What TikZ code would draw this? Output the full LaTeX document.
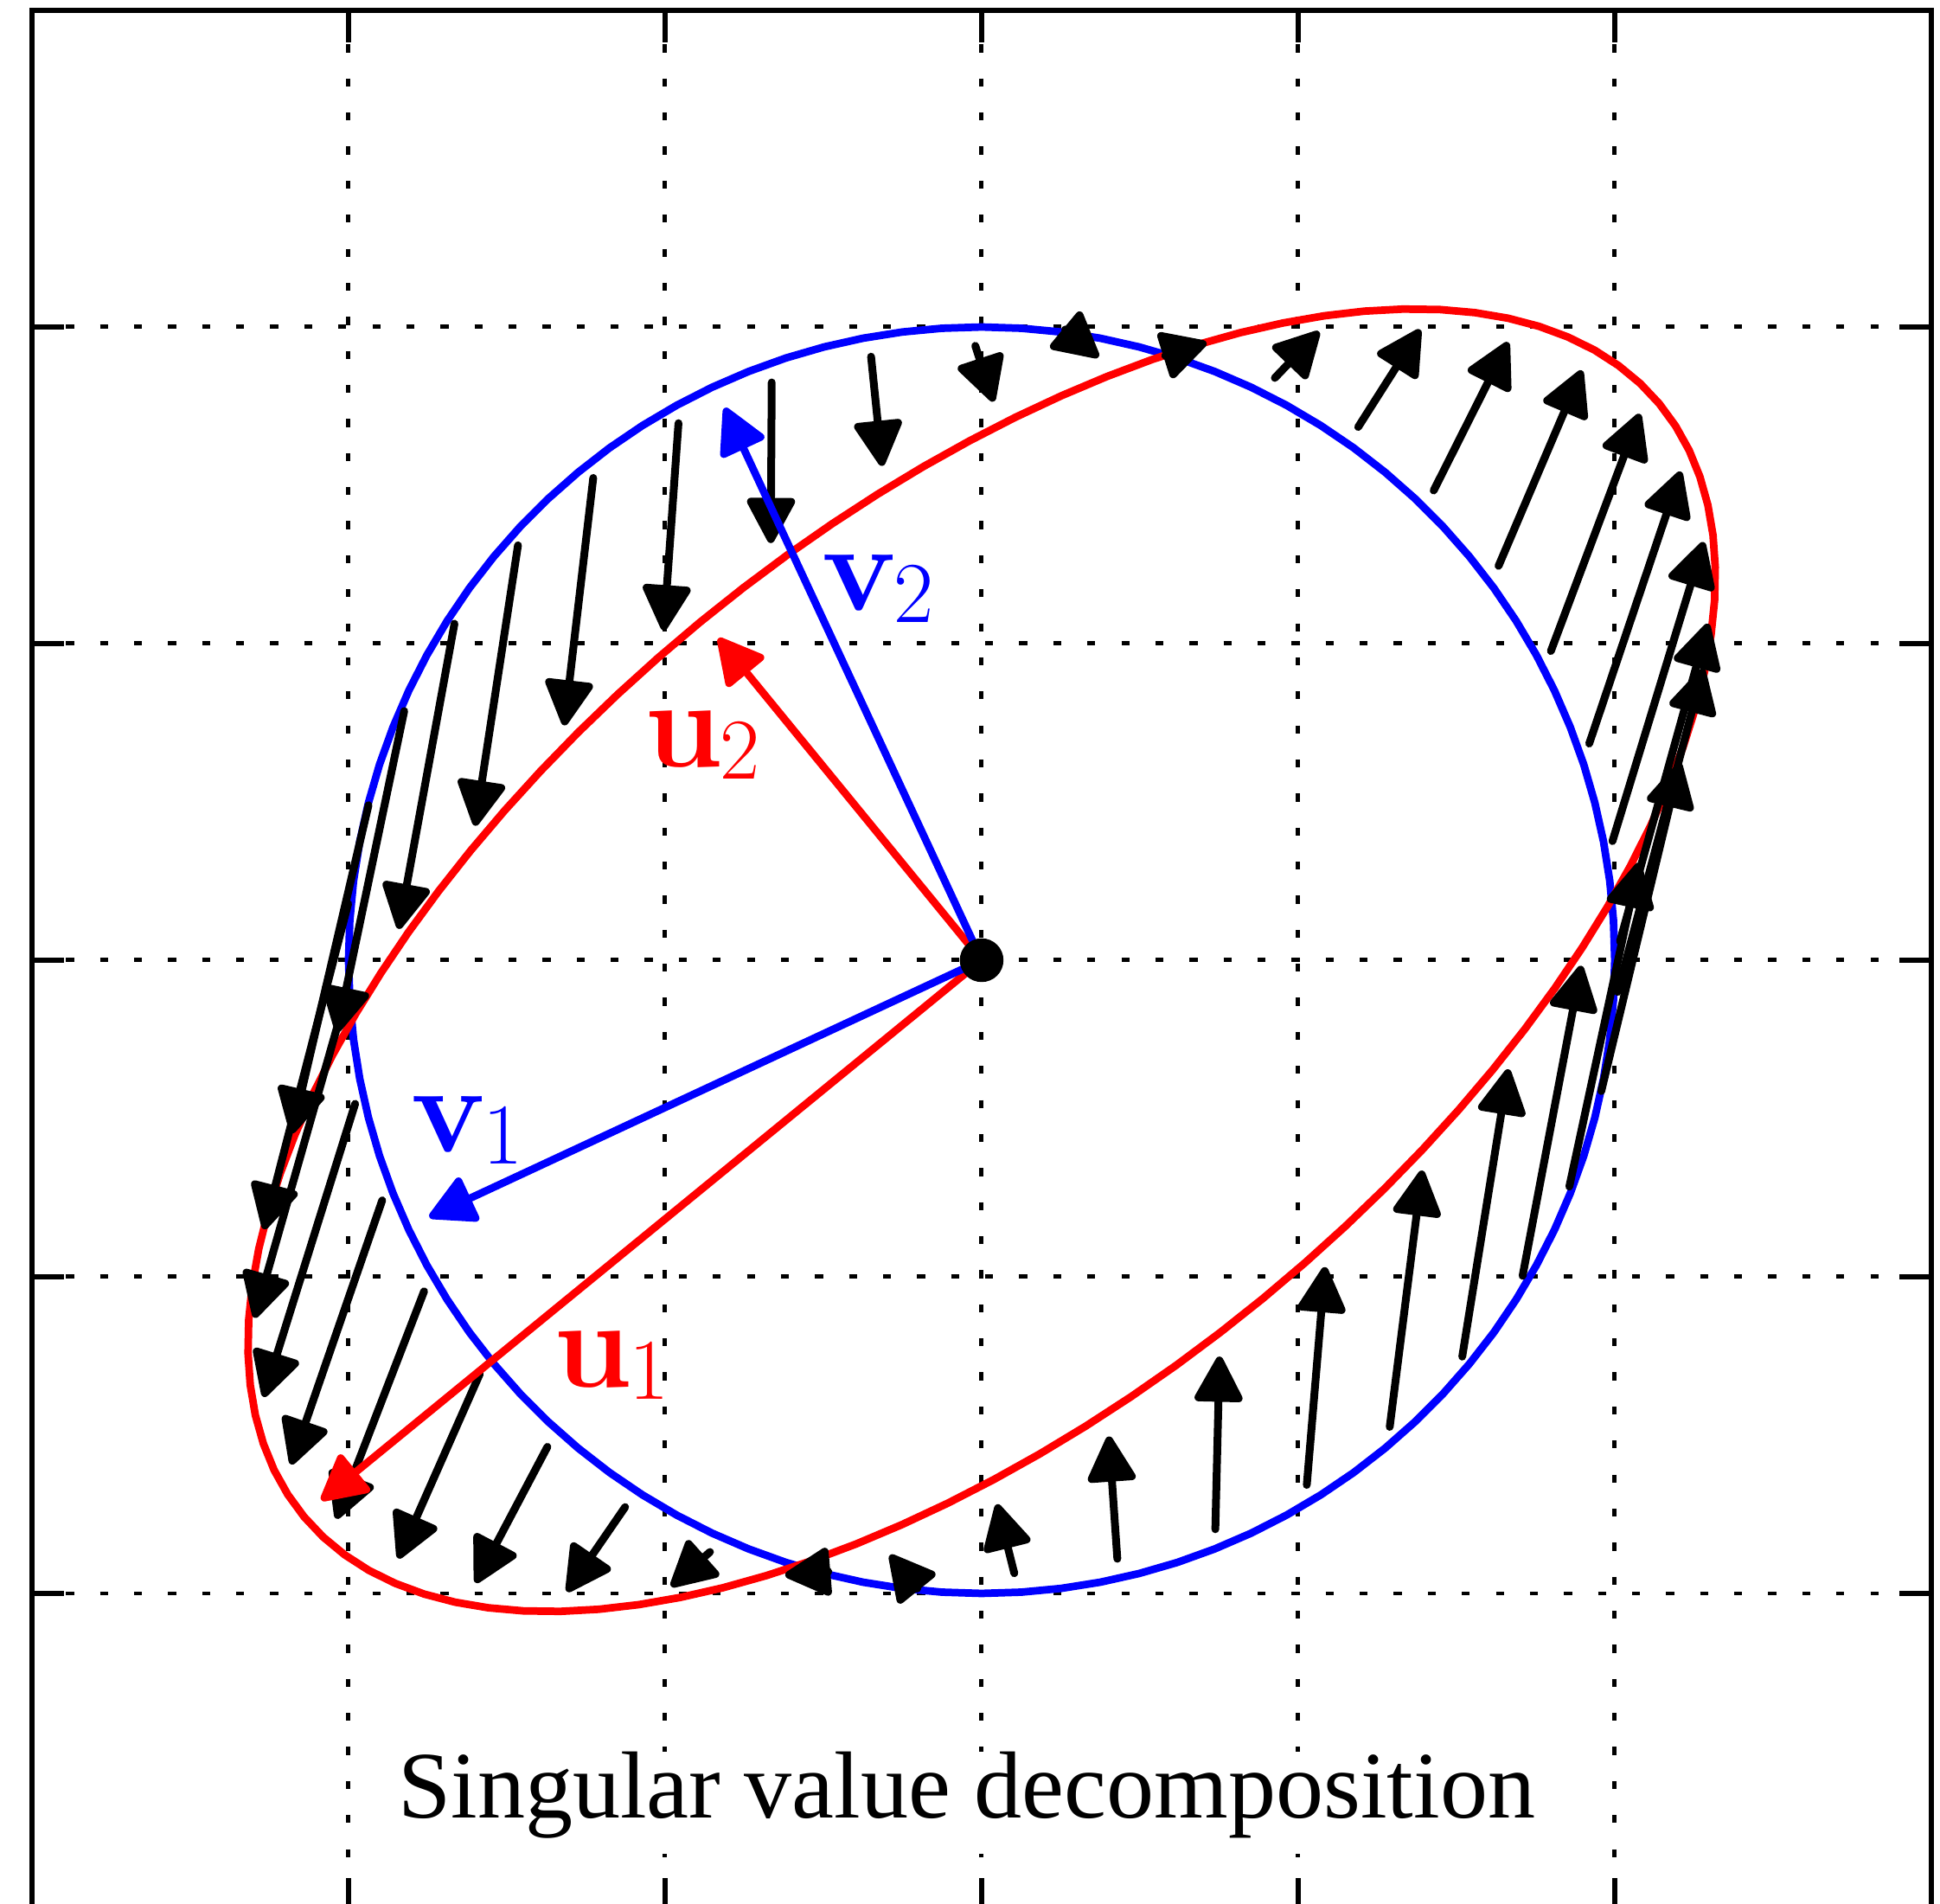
\documentclass[tikz,border=0pt]{standalone}
\usepackage{unicode-math}
\setmathfont{Latin Modern Math}
\newfontfamily\titlefont{Liberation Serif}
\usetikzlibrary{arrows.meta,calc}

% entries of the map A (image of the unit circle is the red ellipse)
\newcommand\aOneOne{1.1577}
\newcommand\aOneTwo{0.0535}
\newcommand\aTwoOne{0.5680}
\newcommand\aTwoTwo{0.8575}

% bold vector name with a lowered index
\newcommand\vecname[2]{$\mathbf{#1}$\kern-0.6pt\raisebox{-2.7pt}{\fontsize{19.5}{24}\selectfont #2}}

\tikzset{
  >={Triangle[length=11.2pt,width=11.5pt,round]},
  gridline/.style={line width=0.97pt, dash pattern=on 1.8pt off 5.85pt},
  frame/.style={line width=1.05pt},
  unitcurve/.style={blue, line width=1.7pt, line join=round},
  imagecurve/.style={red, line width=1.7pt, line join=round},
  flowarrow/.style={line width=1.75pt, line cap=round, ->, shorten >=0.19cm},
  svec/.style={#1, line width=1.7pt, ->, shorten >=0.19cm},
  veclabel/.style={anchor=base west, inner sep=0pt,
                   font=\fontsize{28}{32}\selectfont, text=#1},
  centerdot/.style={circle, fill=black, inner sep=0pt, minimum size=0.345cm}
}

\begin{document}
\begin{tikzpicture}[x=5cm, y=5cm]
  \useasboundingbox (-1.5505,-1.4904) rectangle (1.5137,1.5164);

  % dotted grid
  \foreach \p in {-1,-0.5,0,0.5,1} {
    \draw[gridline] (\p,1.5) -- (\p,-1.5);
    \draw[gridline] (-1.5,\p) -- (1.5,\p);
  }

  % axes box with inward ticks
  \draw[frame] (-1.5,-1.5) rectangle (1.5,1.5);
  \foreach \p in {-1,-0.5,0,0.5,1} {
    \draw[frame] (-1.5,\p) -- ++(0.05,0);
    \draw[frame] (1.5,\p) -- ++(-0.05,0);
    \draw[frame] (\p,1.5) -- ++(0,-0.05);
    \draw[frame] (\p,-1.5) -- ++(0,0.05);
  }

  % unit circle and its image
  \draw[unitcurve] plot[domain=0:360, samples=101] ({cos(\x)},{sin(\x)}) -- cycle;
  \draw[imagecurve] plot[domain=0:360, samples=101]
    ({\aOneOne*cos(\x)+\aOneTwo*sin(\x)},{\aTwoOne*cos(\x)+\aTwoTwo*sin(\x)}) -- cycle;

  % x -> Ax
  \foreach \k in {0,...,39} {
    \pgfmathsetmacro{\xc}{cos(9.113*\k)}
    \pgfmathsetmacro{\ys}{sin(9.113*\k)}
    \coordinate (x\k) at (\xc,\ys);
    \coordinate (Ax\k) at ({\aOneOne*\xc+\aOneTwo*\ys},{\aTwoOne*\xc+\aTwoTwo*\ys});
    \coordinate (xs\k) at ($(x\k)!0.155cm!(Ax\k)$);
    \draw[flowarrow] (xs\k) -- (Ax\k);
  }

  % singular vectors
  \coordinate (O) at (0,0);
  \coordinate (u1) at (219.27:1.3851);
  \coordinate (u2) at (129.27:0.6948);
  \coordinate (v1) at (204.95:1);
  \coordinate (v2) at (114.95:1);
  \draw[svec=red] (O) -- (u1);
  \draw[svec=red] (O) -- (u2);
  \draw[svec=blue] (O) -- (v1);
  \draw[svec=blue] (O) -- (v2);
  \node[centerdot] (origin) at (O) {};

  \node[veclabel=blue] (labv2) at (-0.253,0.5528) {\vecname{v}{2}};
  \node[veclabel=red] (labu2) at (-0.534,0.3049) {\vecname{u}{2}};
  \node[veclabel=blue] (labv1) at (-0.902,-0.3031) {\vecname{v}{1}};
  \node[veclabel=red] (labu1) at (-0.677,-0.674) {\vecname{u}{1}};

  \node[anchor=base, fill=white, inner xsep=3pt, inner ysep=0pt,
        text height=15pt, text depth=8pt,
        font=\titlefont\fontsize{21.4}{25}\selectfont]
    (title) at (-0.0235,-1.355) {Singular value decomposition};
\end{tikzpicture}
\end{document}
